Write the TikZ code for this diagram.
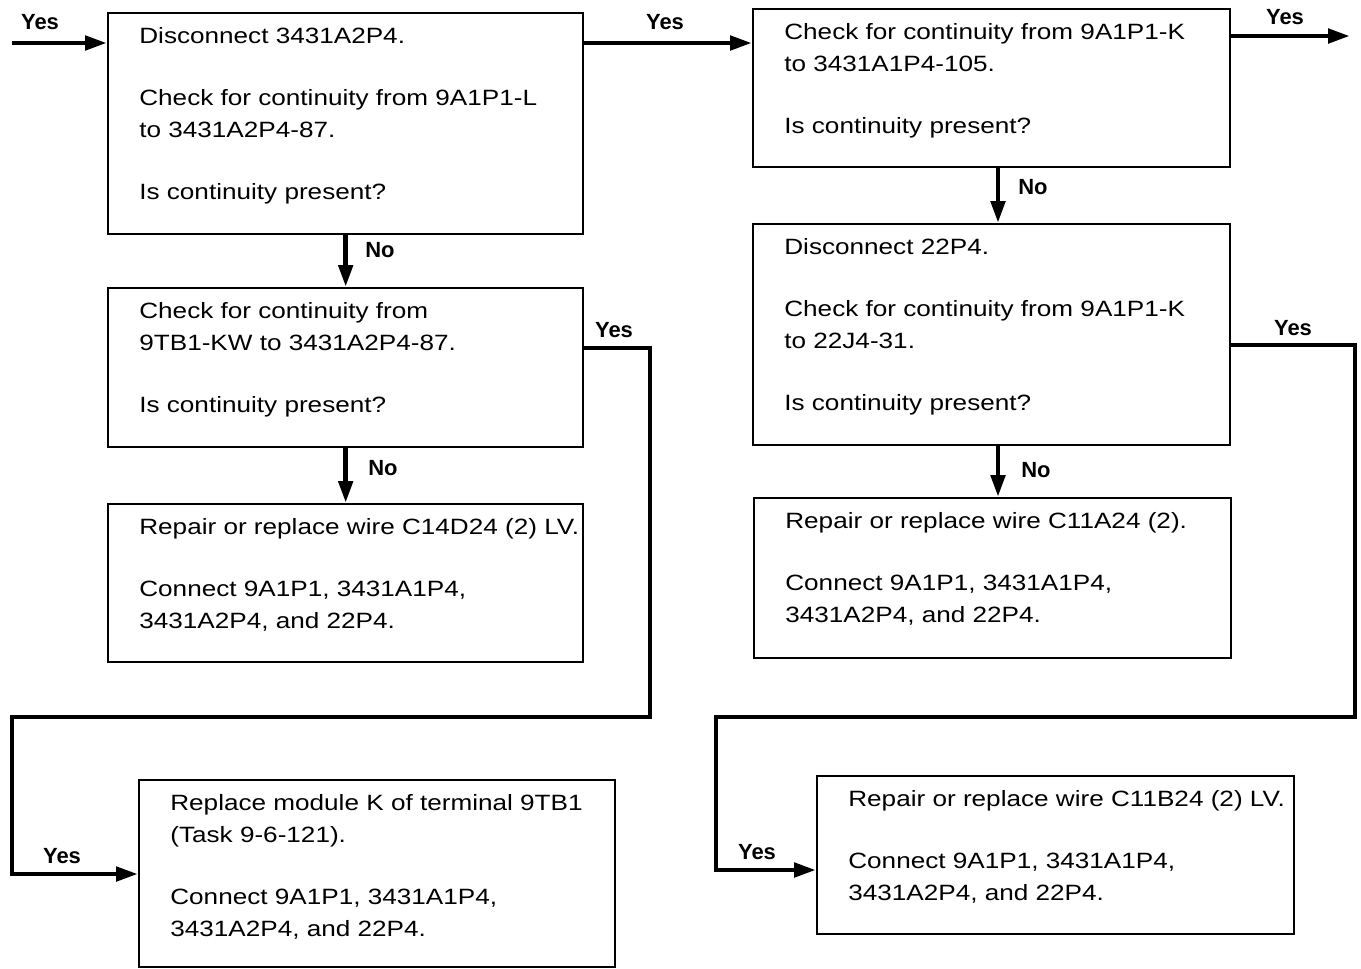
\documentclass[tikz,border=0pt]{standalone}
\usepackage{fontspec}
\setmainfont{Liberation Sans}
\newfontfamily\wideface{Liberation Sans}[FakeStretch=1.18]
\usetikzlibrary{arrows.meta, positioning}
\tikzset{
  stepbox/.style={
    rectangle, draw=black, line width=1.4pt,
    anchor=north west, inner sep=0pt,
  },
  boxtext/.style={align=left, inner sep=0pt, font=\wideface\fontsize{12.6}{18.2}\selectfont},
  flow/.style={-{Triangle[length=0.44cm, width=0.28cm]}, line width=2.8pt},
  answer/.style={font=\bfseries\fontsize{12.5}{12.5}\selectfont, inner sep=0pt},
}

\begin{document}
\begin{tikzpicture}[x=0.02cm, y=-0.02cm]
  \useasboundingbox (0,0) rectangle (1361,968);

  % Left column
  \node[stepbox, minimum width=9.5cm, minimum height=4.42cm]  (b1) at (107,12)  {};
  \node[stepbox, minimum width=9.5cm, minimum height=3.18cm]  (b2) at (107,287) {};
  \node[stepbox, minimum width=9.5cm, minimum height=3.16cm]  (b3) at (107,503) {};
  \node[stepbox, minimum width=9.52cm, minimum height=3.74cm] (b4) at (138,779) {};

  % Right column
  \node[stepbox, minimum width=9.54cm, minimum height=3.16cm] (b5) at (752,8)   {};
  \node[stepbox, minimum width=9.54cm, minimum height=4.42cm] (b6) at (752,223) {};
  \node[stepbox, minimum width=9.54cm, minimum height=3.2cm]  (b7) at (753,497) {};
  \node[stepbox, minimum width=9.54cm, minimum height=3.16cm] (b8) at (816,775) {};

  % Box texts
  \node[boxtext, below right=0.3cm and 0.64cm of b1.north west] (t1)
    {Disconnect 3431A2P4.\\[17pt]Check for continuity from 9A1P1-L\\to 3431A2P4-87.\\[17pt]Is continuity present?};
  \node[boxtext, below right=0.3cm and 0.64cm of b2.north west] (t2)
    {Check for continuity from\\9TB1-KW to 3431A2P4-87.\\[17pt]Is continuity present?};
  \node[boxtext, below right=0.3cm and 0.64cm of b3.north west] (t3)
    {Repair or replace wire C14D24 (2) LV.\\[17pt]Connect 9A1P1, 3431A1P4,\\3431A2P4, and 22P4.};
  \node[boxtext, below right=0.3cm and 0.64cm of b4.north west] (t4)
    {Replace module K of terminal 9TB1\\(Task 9-6-121).\\[17pt]Connect 9A1P1, 3431A1P4,\\3431A2P4, and 22P4.};
  \node[boxtext, below right=0.3cm and 0.64cm of b5.north west] (t5)
    {Check for continuity from 9A1P1-K\\to 3431A1P4-105.\\[17pt]Is continuity present?};
  \node[boxtext, below right=0.3cm and 0.64cm of b6.north west] (t6)
    {Disconnect 22P4.\\[17pt]Check for continuity from 9A1P1-K\\to 22J4-31.\\[17pt]Is continuity present?};
  \node[boxtext, below right=0.3cm and 0.64cm of b7.north west] (t7)
    {Repair or replace wire C11A24 (2).\\[17pt]Connect 9A1P1, 3431A1P4,\\3431A2P4, and 22P4.};
  \node[boxtext, below right=0.3cm and 0.64cm of b8.north west] (t8)
    {Repair or replace wire C11B24 (2) LV.\\[17pt]Connect 9A1P1, 3431A1P4,\\3431A2P4, and 22P4.};

  % Helper points
  \coordinate (in)  at (12,43);
  \coordinate (out) at (1350,36);
  \coordinate (mid) at (998,0);
  \coordinate (l1)  at (650,348);
  \coordinate (l2)  at (12,717);
  \coordinate (l3)  at (0,874);
  \coordinate (r1)  at (1355,345);
  \coordinate (r2)  at (716,717);
  \coordinate (r3)  at (0,870);

  % Connectors
  \draw[flow] (in) -- (in -| b1.west);
  \draw[flow] (in -| b1.east) -- (in -| b5.west);
  \draw[flow] (out -| b5.east) -- (out);
  \draw[flow] (b1.south) -- (b2.north);
  \draw[flow] (b2.south) -- (b3.north);
  \draw[flow] (b5.south -| mid) -- (b6.north -| mid);
  \draw[flow] (b6.south -| mid) -- (b7.north -| mid);
  \draw[flow] (l1 -| b2.east) -- (l1) |- (l2) |- (b4.west |- l3);
  \draw[flow] (r1 -| b6.east) -- (r1) |- (r2) |- (b8.west |- r3);

  % Answers
  \node[answer] (yesIn)  at (40,22)   {Yes};
  \node[answer] (yes15)  at (665,22)  {Yes};
  \node[answer] (yesOut) at (1285,17) {Yes};
  \node[answer] (no12)   at (380,250) {No};
  \node[answer] (no23)   at (383,468) {No};
  \node[answer] (yes24a) at (614,330) {Yes};
  \node[answer] (yes24b) at (62,856)  {Yes};
  \node[answer] (no56)   at (1033,187) {No};
  \node[answer] (no67)   at (1036,470) {No};
  \node[answer] (yes68a) at (1293,328) {Yes};
  \node[answer] (yes68b) at (757,852) {Yes};

\end{tikzpicture}
\end{document}
